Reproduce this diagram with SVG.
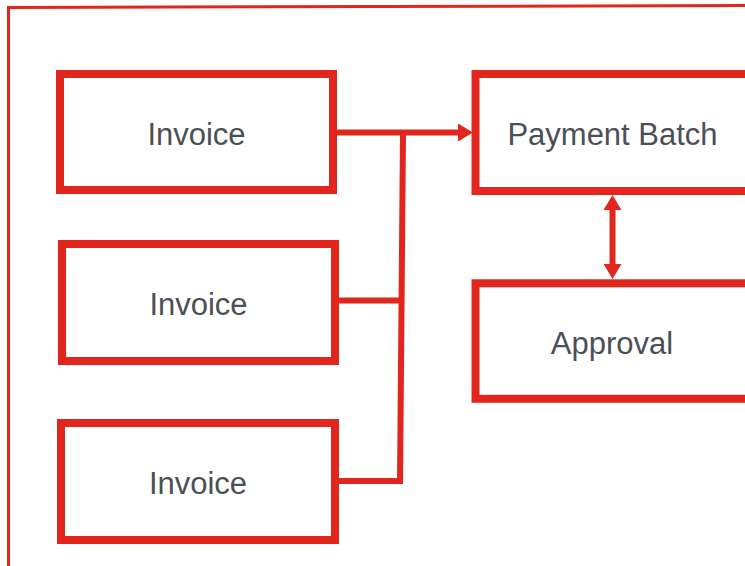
<svg xmlns="http://www.w3.org/2000/svg" width="745" height="566" viewBox="0 0 745 566">
<style>
.box{fill:#fff;stroke:#e2261d;stroke-width:8}
.lbl{font-family:"Liberation Sans",Arial,sans-serif;font-size:31px;fill:#4b5056;text-anchor:middle}
.con{fill:none;stroke:#e2261d;stroke-width:6}
</style>
<defs>
<marker id="ah" viewBox="0 0 15 18" refX="1" refY="9" markerWidth="15" markerHeight="18" markerUnits="userSpaceOnUse" orient="auto-start-reverse">
<path d="M0,0 L15,9 L0,18 Z" fill="#e2261d"/>
</marker>
</defs>
<rect width="745" height="566" fill="#fff"/>
<path d="M8.5,568 L8.5,7.5 L747,5.5" fill="none" stroke="#e2261d" stroke-width="3"/>
<g id="connectors">
<path class="con" d="M337,132.5 L459,132.5" marker-end="url(#ah)"/>
<path class="con" d="M403,132.5 L400,484"/>
<path class="con" d="M339,300.5 L403,300.5"/>
<path class="con" d="M339,481 L403,481"/>
<path class="con" d="M612.5,209 L612.5,265" marker-start="url(#ah)" marker-end="url(#ah)"/>
</g>
<g id="invoice1"><rect class="box" x="60" y="74" width="273" height="116"/><text class="lbl" x="196.5" y="144.5">Invoice</text></g>
<g id="invoice2"><rect class="box" x="62" y="244" width="273" height="117"/><text class="lbl" x="198.5" y="315">Invoice</text></g>
<g id="invoice3"><rect class="box" x="61" y="423" width="274" height="117"/><text class="lbl" x="198" y="494">Invoice</text></g>
<g id="payment-batch"><rect class="box" x="475.5" y="74" width="300" height="117"/><text class="lbl" x="612.5" y="144.5">Payment Batch</text></g>
<g id="approval"><rect class="box" x="475.5" y="283.3" width="300" height="115.5"/><text class="lbl" x="612" y="354">Approval</text></g>
</svg>
